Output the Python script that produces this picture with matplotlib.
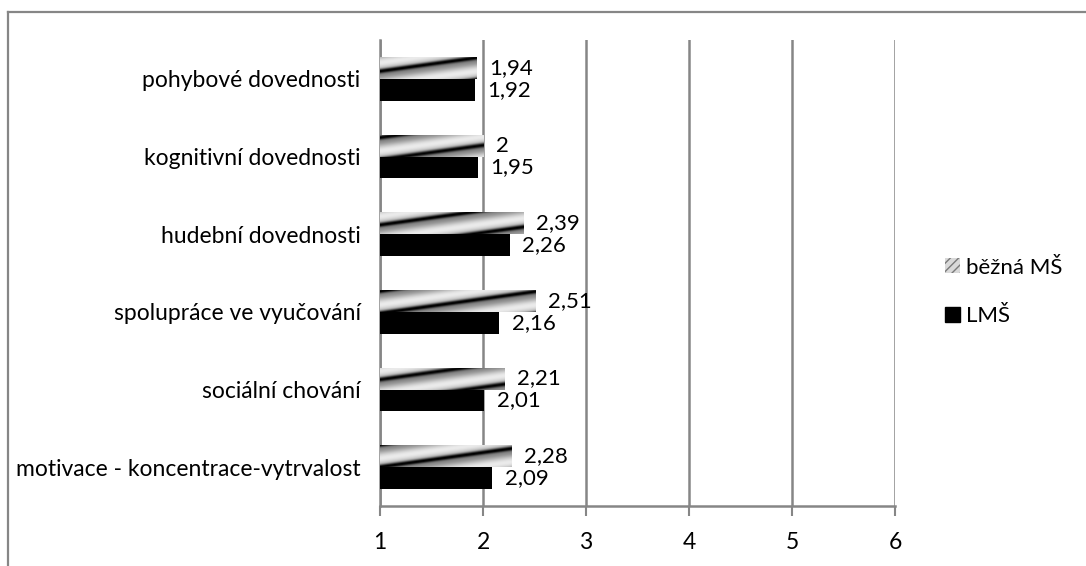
import numpy as np
import matplotlib
matplotlib.use("Agg")
import matplotlib.pyplot as plt
from matplotlib.patches import Patch
from matplotlib.lines import Line2D

categories = ["motivace - koncentrace-vytrvalost", "sociální chování",
              "spolupráce ve vyučování", "hudební dovednosti",
              "kognitivní dovednosti", "pohybové dovednosti"]
bezna_ms = [2.28, 2.21, 2.51, 2.39, 2.00, 1.94]
lms = [2.09, 2.01, 2.16, 2.26, 1.95, 1.92]
series_names = ["běžná MŠ", "LMŠ"]
xticks = [1, 2, 3, 4, 5, 6]

plt.rcParams['font.family'] = ['Lato', 'DejaVu Sans']
W, H = 1086, 566
fig = plt.figure(figsize=(W / 100, H / 100), dpi=100)
ax = fig.add_axes([380 / W, 1 - 506 / H, (895 - 380) / W, (506 - 40) / H])

grid_c = "#868686"
y = np.arange(len(categories))
h = 0.283
bars_b = ax.barh(y + h / 2, bezna_ms, height=h, color="none", edgecolor="none", zorder=3)
bars_l = ax.barh(y - h / 2, lms, height=h, color="black", edgecolor="none", zorder=3)

ax.set_xlim(1, 6)
ax.set_ylim(-0.5, len(categories) - 0.5)

# stripe gradient texture for the first series
pw, ph = 515, 466
xx, yy = np.meshgrid(np.arange(pw), np.arange(ph))
phase = (yy + 0.14 * xx) / 22.0
c = np.cos(2 * np.pi * phase)
tex = 0.72 + 0.2 * c - 0.6 * np.clip(np.cos(2 * np.pi * (phase - 0.38)), 0, 1) ** 5
tex = np.clip(tex, 0, 1)
for b in bars_b:
    im = ax.imshow(tex, extent=(1, 6, -0.5, len(categories) - 0.5), cmap="gray",
                   vmin=0, vmax=1, aspect="auto", interpolation="bilinear",
                   origin="upper", zorder=3)
    im.set_clip_path(b)
ax.set_xlim(1, 6)
ax.set_ylim(-0.5, len(categories) - 0.5)

def fmt(v):
    return f"{v:g}".replace(".", ",")

for bars, vals in ((bars_b, bezna_ms), (bars_l, lms)):
    for b, v in zip(bars, vals):
        ax.annotate(fmt(v), (v, b.get_y() + b.get_height() / 2), xytext=(9, 0),
                    textcoords="offset points", va="center", ha="left", fontsize=16)

ax.set_xticks(xticks)
ax.set_xticklabels([str(t) for t in xticks], fontsize=16.5)
ax.set_yticks(y)
ax.set_yticklabels(categories, fontsize=16.5)
ax.tick_params(axis="y", length=0, pad=14)
ax.tick_params(axis="x", length=7, width=1.5, color=grid_c, pad=12, direction="out")
ax.grid(axis="x", color=grid_c, lw=1.8, zorder=0)
ax.set_axisbelow(True)
for s in ("top", "right"):
    ax.spines[s].set_visible(False)
for s in ("left", "bottom"):
    ax.spines[s].set_color(grid_c)
    ax.spines[s].set_linewidth(1.8)

handles = [Patch(facecolor="#d9d9d9", edgecolor="#7a7a7a", hatch="////", lw=0),
           Patch(facecolor="black", edgecolor="black")]
leg = fig.legend(handles, series_names, loc="center left", bbox_to_anchor=(925 / W, 1 - 292 / H),
                 frameon=False, fontsize=16, handlelength=0.68, handleheight=0.68,
                 handletextpad=0.25, labelspacing=1.3)

fig.add_artist(Line2D([8 / W, 1], [1 - 12 / H, 1 - 12 / H], color=grid_c, lw=1.6))
fig.add_artist(Line2D([8 / W, 8 / W], [0, 1 - 12 / H], color=grid_c, lw=1.6))

fig.savefig("out.png", dpi=100, facecolor="white")
